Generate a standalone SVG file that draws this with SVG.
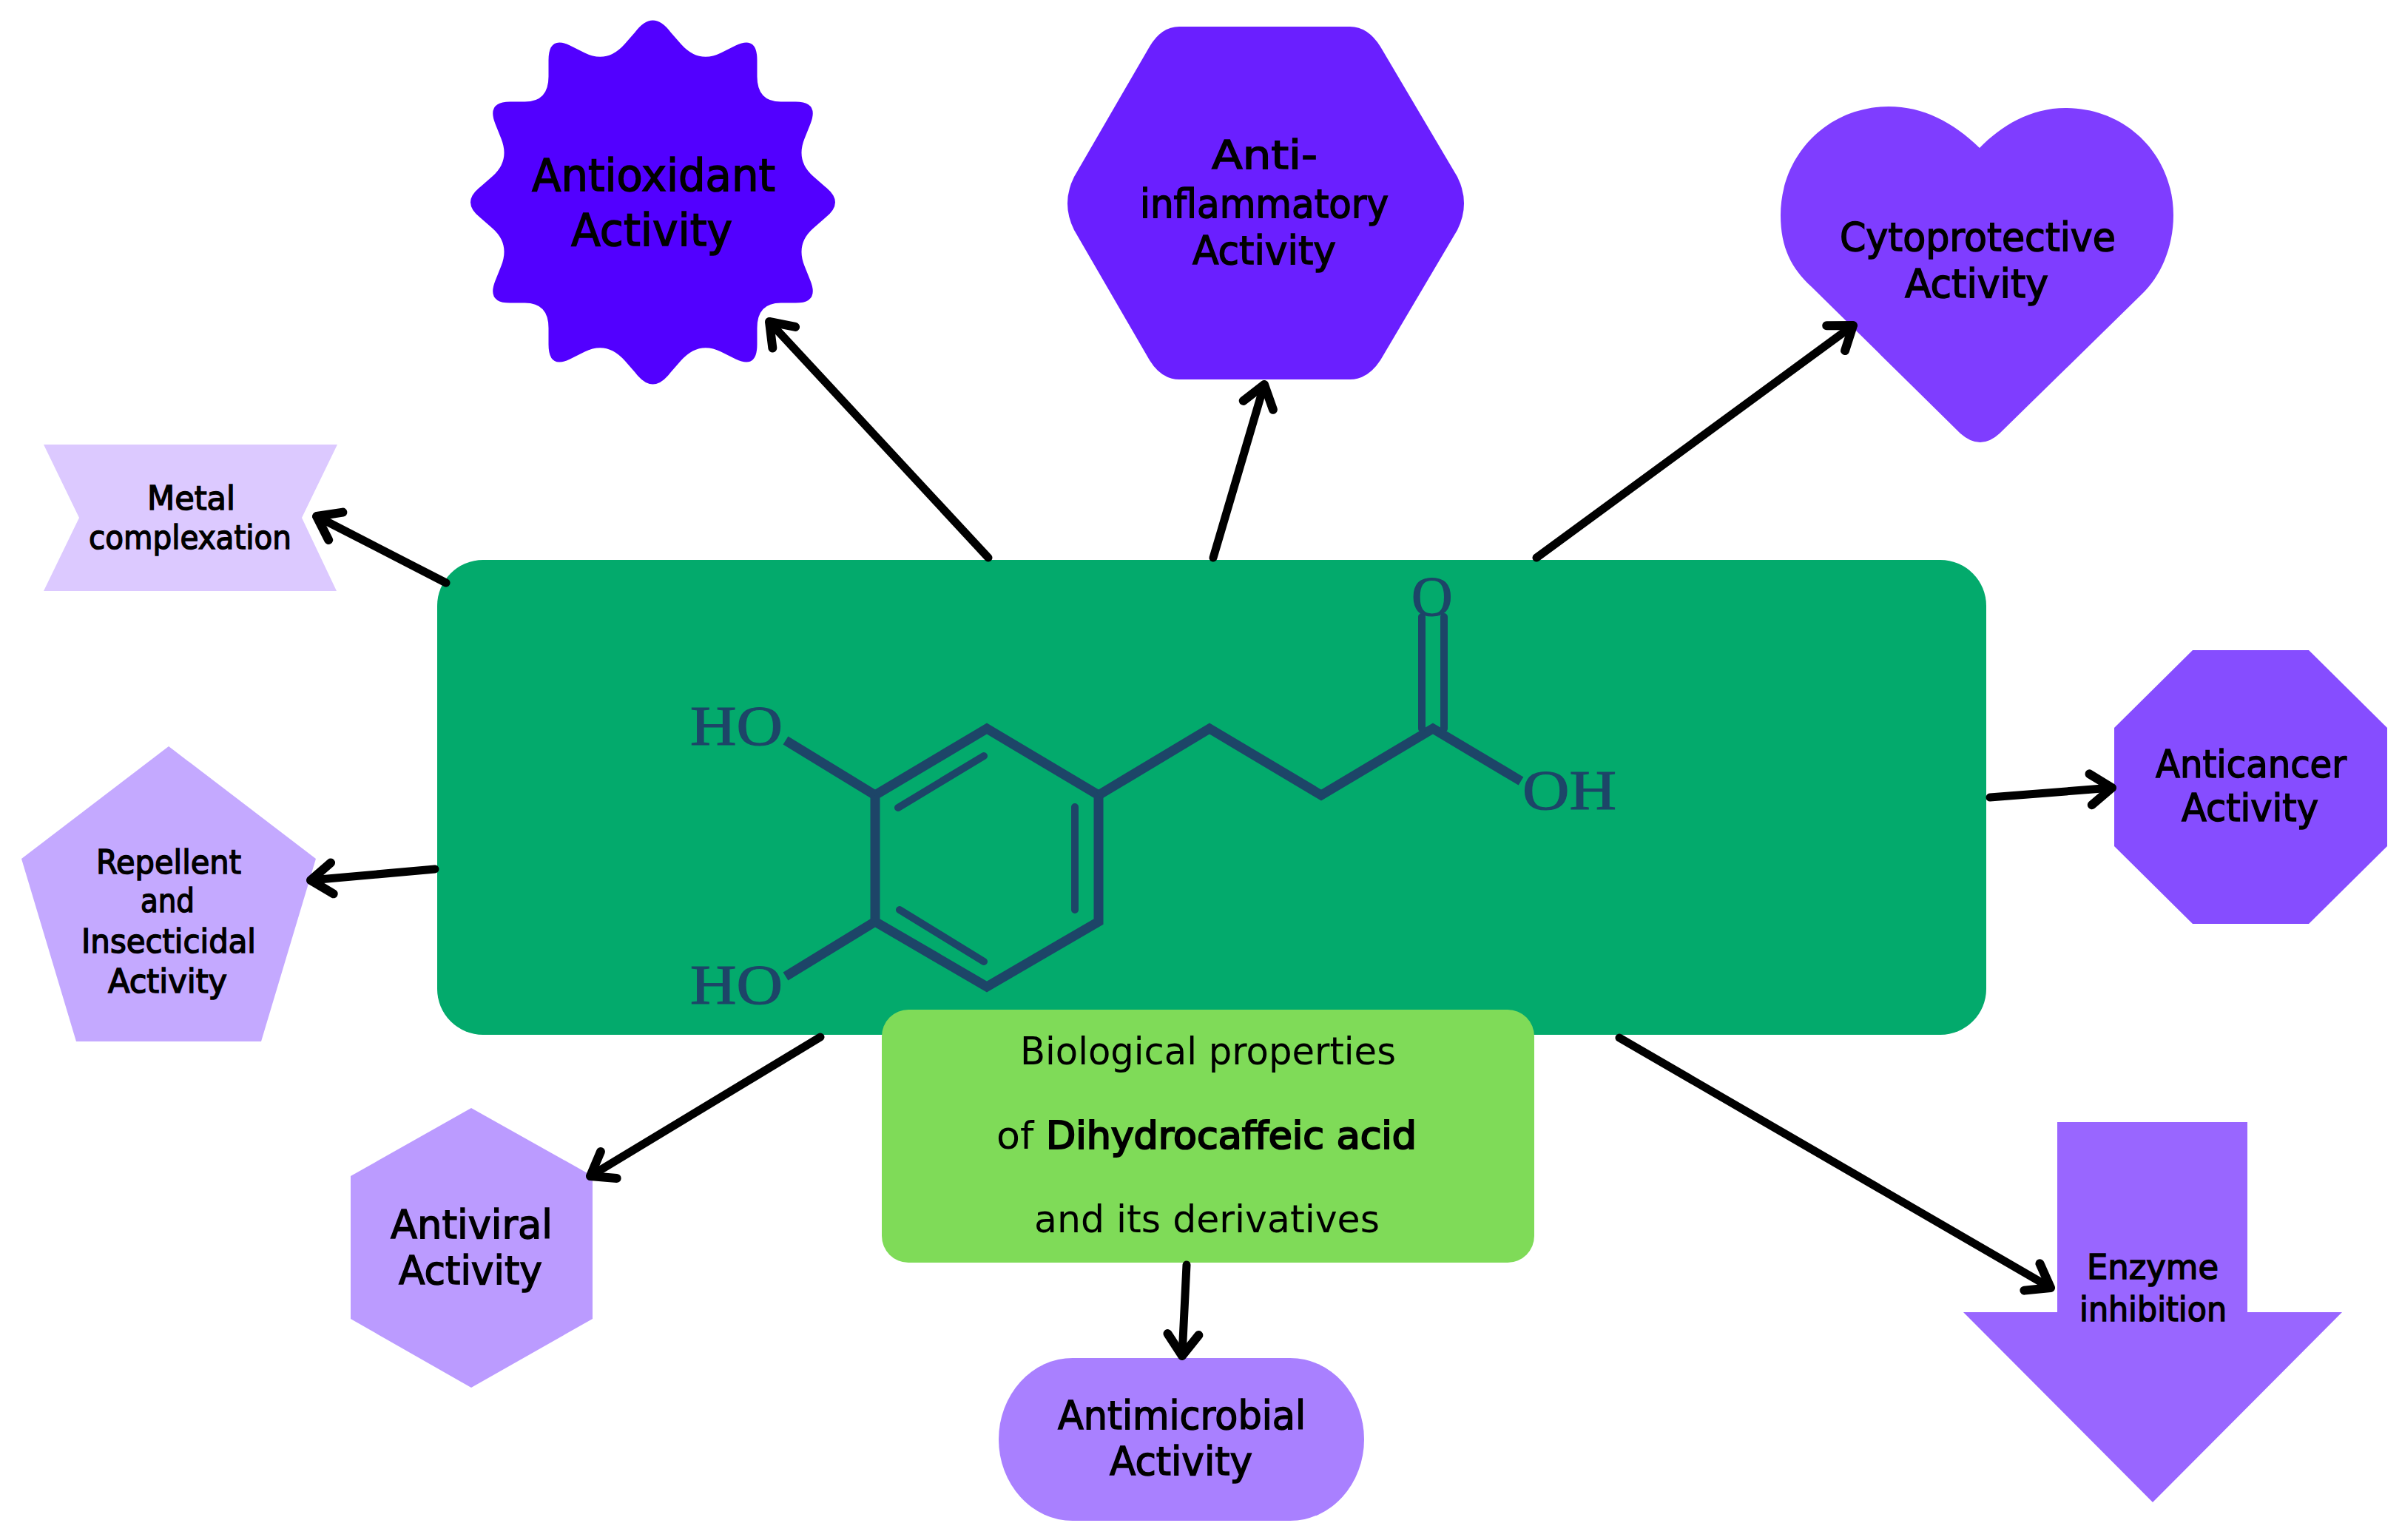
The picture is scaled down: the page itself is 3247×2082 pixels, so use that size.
<svg xmlns="http://www.w3.org/2000/svg" width="3247" height="2082" viewBox="0 0 3247 2082">
<defs>
<marker id="head" markerUnits="userSpaceOnUse" markerWidth="80" markerHeight="80" viewBox="-60 -40 80 80" refX="0" refY="0" orient="auto" overflow="visible">
<path d="M-29,-21 L0,0 L-29,21" fill="none" stroke="#000" stroke-width="12" stroke-linecap="round" stroke-linejoin="round"/>
</marker>
</defs>
<style>
.t{font-family:"DejaVu Sans","Noto Sans",sans-serif;fill:#000;stroke:#000;stroke-width:1.5}
.r{stroke-width:0}
.b{stroke-width:2.2}
.m{font-family:"Liberation Serif",serif;fill:#1d4568;stroke:#1d4568;stroke-width:1.2;font-size:77px}
.bond{fill:none;stroke:#1d4568;stroke-width:13;stroke-linejoin:miter}
.thin{stroke-width:10;stroke-linecap:round}
.c{fill:none;stroke:#000;stroke-width:11;stroke-linecap:round;marker-end:url(#head)}
</style>
<rect width="3247" height="2082" fill="#fff"/>
<g id="node-center">
<rect x="591" y="757" width="2094" height="642" rx="62" ry="62" fill="#03aa6c"/>
<g id="molecule">
<path class="bond" d="M1334,985 L1183,1075 L1183,1246 L1334,1334 L1485,1246 L1485,1075 Z"/>
<path class="bond" d="M1485,1075 L1635,985 L1786,1075 L1937,985 L2056,1056"/>
<path class="bond" d="M1062,1001 L1183,1075 M1062,1320 L1183,1246"/>
<path class="bond thin" d="M1922,834 L1922,985 M1952,834 L1952,985 M1214,1092 L1330,1022 M1453,1091 L1453,1230 M1216,1230 L1330,1300"/>
<text class="m" x="933" y="1007" textLength="125" lengthAdjust="spacingAndGlyphs">HO</text>
<text class="m" x="933" y="1357" textLength="125" lengthAdjust="spacingAndGlyphs">HO</text>
<text class="m" x="2058" y="1094" textLength="127" lengthAdjust="spacingAndGlyphs">OH</text>
<text class="m" x="1908" y="832">O</text>
</g>
</g>
<g id="node-title">
<rect x="1192" y="1365" width="882" height="342" rx="36" ry="36" fill="#7fdb58"/>
<text class="t r" font-size="52" x="1379" y="1439" textLength="508" lengthAdjust="spacingAndGlyphs">Biological properties</text>
<text class="t r" font-size="52" x="1347" y="1553" textLength="568" lengthAdjust="spacingAndGlyphs">of <tspan class="t b">Dihydrocaffeic acid</tspan></text>
<text class="t r" font-size="52" x="1398" y="1666" textLength="467" lengthAdjust="spacingAndGlyphs">and its derivatives</text>
</g>
<g id="node-antioxidant">
<path fill="#5200ff" transform="translate(882.5,273.5)" d="M24,-230 L38,-214 Q62,-187 92,-202 L112,-212 Q141,-226 141,-192 L141,-170 Q141,-136 173,-136 L193,-136 Q225,-136 213,-106 L205,-86 Q193,-56 217,-35 L233,-21 Q260,0 233,21 L217,35 Q193,56 205,86 L213,106 Q225,136 193,136 L173,136 Q141,136 141,170 L141,192 Q141,226 112,212 L92,202 Q62,187 38,214 L24,230 Q0,262 -24,230 L-38,214 Q-62,187 -92,202 L-112,212 Q-141,226 -141,192 L-141,170 Q-141,136 -173,136 L-193,136 Q-225,136 -213,106 L-205,86 Q-193,56 -217,35 L-233,21 Q-260,0 -233,-21 L-217,-35 Q-193,-56 -205,-86 L-213,-106 Q-225,-136 -193,-136 L-173,-136 Q-141,-136 -141,-170 L-141,-192 Q-141,-226 -112,-212 L-92,-202 Q-62,-187 -38,-214 L-24,-230 Q0,-262 24,-230 Z"/>
<text class="t" font-size="60" x="719" y="258" textLength="329" lengthAdjust="spacingAndGlyphs">Antioxidant</text>
<text class="t" font-size="60" x="772" y="332" textLength="218" lengthAdjust="spacingAndGlyphs">Activity</text>
</g>
<g id="node-antiinflammatory">
<path fill="#6a1fff" d="M1452,239 L1554,63 Q1570,36 1594,36 L1825,36 Q1849,36 1866,63 L1970,239 Q1988,275 1970,311 L1866,487 Q1849,513 1825,513 L1594,513 Q1570,513 1554,487 L1452,311 Q1434,275 1452,239 Z"/>
<text class="t" font-size="54" x="1638" y="228" textLength="143" lengthAdjust="spacingAndGlyphs">Anti-</text>
<text class="t" font-size="54" x="1541" y="294" textLength="336" lengthAdjust="spacingAndGlyphs">inflammatory</text>
<text class="t" font-size="54" x="1612" y="357" textLength="194" lengthAdjust="spacingAndGlyphs">Activity</text>
</g>
<g id="node-cytoprotective">
<path fill="#7f3dff" d="M2676,200 C2640,165 2600,144 2553,144 C2470,144 2407,210 2407,291 C2407,335 2422,363 2448,387 L2650,586 Q2677,610 2703,586 L2895,398 C2920,375 2938,335 2938,291 C2938,210 2875,146 2792,146 C2745,146 2705,170 2676,200 Z"/>
<text class="t" font-size="54" x="2487" y="339" textLength="373" lengthAdjust="spacingAndGlyphs">Cytoprotective</text>
<text class="t" font-size="54" x="2575" y="402" textLength="194" lengthAdjust="spacingAndGlyphs">Activity</text>
</g>
<g id="node-anticancer">
<polygon fill="#864dff" points="2964,879 3121,879 3227,984 3227,1144 3121,1249 2964,1249 2858,1144 2858,984"/>
<text class="t" font-size="52" x="2914" y="1051" textLength="258" lengthAdjust="spacingAndGlyphs">Anticancer</text>
<text class="t" font-size="52" x="2949" y="1110" textLength="185" lengthAdjust="spacingAndGlyphs">Activity</text>
</g>
<g id="node-enzyme">
<polygon fill="#9966ff" points="2781,1517 3038,1517 3038,1774 3166,1774 2910,2031 2654,1774 2781,1774"/>
<text class="t" font-size="47" x="2821" y="1729" textLength="178" lengthAdjust="spacingAndGlyphs">Enzyme</text>
<text class="t" font-size="47" x="2811" y="1786" textLength="199" lengthAdjust="spacingAndGlyphs">inhibition</text>
</g>
<g id="node-antimicrobial">
<rect x="1350" y="1836" width="494" height="220" rx="100" ry="110" fill="#a980ff"/>
<text class="t" font-size="53" x="1430" y="1932" textLength="335" lengthAdjust="spacingAndGlyphs">Antimicrobial</text>
<text class="t" font-size="53" x="1500" y="1994" textLength="193" lengthAdjust="spacingAndGlyphs">Activity</text>
</g>
<g id="node-antiviral">
<polygon fill="#bb9bff" points="637,1498 801,1590 801,1783 637,1876 474,1783 474,1590"/>
<text class="t" font-size="54" x="528" y="1674" textLength="219" lengthAdjust="spacingAndGlyphs">Antiviral</text>
<text class="t" font-size="54" x="539" y="1736" textLength="194" lengthAdjust="spacingAndGlyphs">Activity</text>
</g>
<g id="node-repellent">
<polygon fill="#c4a9ff" points="228,1009 427,1161 353,1408 103,1408 29,1161"/>
<text class="t" font-size="44" x="130" y="1181" textLength="196" lengthAdjust="spacingAndGlyphs">Repellent</text>
<text class="t" font-size="44" x="190" y="1233" textLength="73" lengthAdjust="spacingAndGlyphs">and</text>
<text class="t" font-size="44" x="110" y="1288" textLength="236" lengthAdjust="spacingAndGlyphs">Insecticidal</text>
<text class="t" font-size="44" x="146" y="1342" textLength="161" lengthAdjust="spacingAndGlyphs">Activity</text>
</g>
<g id="node-metal">
<polygon fill="#dcc9ff" points="59,601 456,601 408,700 455,799 59,799 107,700"/>
<text class="t" font-size="45" x="199" y="689" textLength="119" lengthAdjust="spacingAndGlyphs">Metal</text>
<text class="t" font-size="45" x="120" y="742" textLength="274" lengthAdjust="spacingAndGlyphs">complexation</text>
</g>
<g id="connectors">
<line class="c" x1="1336" y1="754" x2="1040" y2="435"/>
<line class="c" x1="1640" y1="754" x2="1709" y2="520"/>
<line class="c" x1="2077" y1="754" x2="2505" y2="440"/>
<line class="c" x1="2690" y1="1078" x2="2855" y2="1065"/>
<line class="c" x1="2189" y1="1403" x2="2772" y2="1741"/>
<line class="c" x1="1604" y1="1710" x2="1598" y2="1833"/>
<line class="c" x1="1109" y1="1402" x2="798" y2="1590"/>
<line class="c" x1="588" y1="1175" x2="420" y2="1190"/>
<line class="c" x1="603" y1="788" x2="428" y2="698"/>
</g>
</svg>
